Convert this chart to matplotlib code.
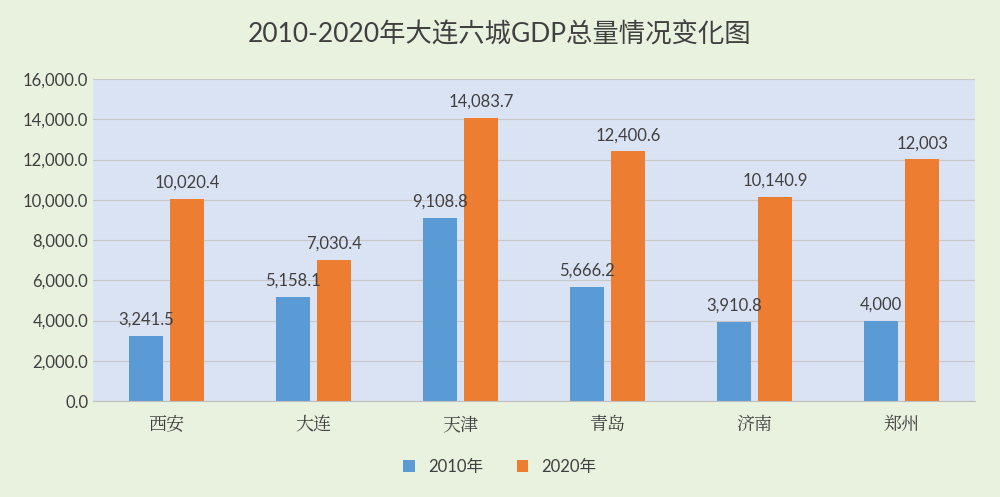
import matplotlib
matplotlib.use("Agg")
import matplotlib.pyplot as plt
from matplotlib import font_manager
import numpy as np

cities = ["西安", "大连", "天津", "青岛", "济南", "郑州"]
gdp_2010 = [3241.5, 5158.1, 9108.8, 5666.2, 3910.8, 4000]
gdp_2020 = [10020.4, 7030.4, 14083.7, 12400.6, 10140.9, 12003]
labels_2010 = ["3,241.5", "5,158.1", "9,108.8", "5,666.2", "3,910.8", "4,000"]
labels_2020 = ["10,020.4", "7,030.4", "14,083.7", "12,400.6", "10,140.9", "12,003"]
yticks = np.arange(0, 16001, 2000)

names = sorted({f.name for f in font_manager.fontManager.ttflist if "CJK" in f.name})
sans_cjk = [n for n in names if "Sans" in n and n.endswith("SC")] or [n for n in names if "Sans" in n] or names
serif_cjk = [n for n in names if "Serif" in n and n.endswith("SC")] or [n for n in names if "Serif" in n] or sans_cjk
plt.rcParams["font.family"] = ["Lato"] + sans_cjk[:1] + ["DejaVu Sans"]

fig = plt.figure(figsize=(10, 4.97), dpi=100, facecolor="#e9f1df")
ax = fig.add_axes([0.093, 0.193, 0.882, 0.648], facecolor="#dae3f3")

x = np.arange(len(cities))
w = 0.23
off = 0.14
b1 = ax.bar(x - off, gdp_2010, w, color="#5b9bd5", label="2010年")
b2 = ax.bar(x + off, gdp_2020, w, color="#ed7d31", label="2020年")
ax.bar_label(b1, labels=labels_2010, padding=6, fontsize=12, color="#404040")
ax.bar_label(b2, labels=labels_2020, padding=6, fontsize=12, color="#404040")

ax.set_xlim(-0.5, len(cities) - 0.5)
ax.set_ylim(0, 16000)
ax.set_yticks(yticks)
ax.set_yticklabels([f"{v:,.1f}" for v in yticks], fontsize=12, color="#404040")
ax.set_xticks(x)
ax.set_xticklabels(cities, fontsize=13, color="#404040", family=serif_cjk[:1])
ax.tick_params(length=0)
ax.tick_params(axis="x", pad=10)
ax.grid(axis="y", color="#c8c8c8", linewidth=0.8)
ax.set_axisbelow(True)
for s in ["top", "right", "left"]:
    ax.spines[s].set_visible(False)
ax.spines["bottom"].set_color("#bfbfbf")

fig.suptitle("2010-2020年大连六城GDP总量情况变化图", y=0.955, fontsize=19, color="#404040")
fig.legend(loc="lower center", bbox_to_anchor=(0.5, 0.015), ncol=2, frameon=False,
           fontsize=12, handlelength=0.7, handleheight=0.7, labelcolor="#404040")

fig.savefig("out.png", dpi=100, facecolor=fig.get_facecolor())
